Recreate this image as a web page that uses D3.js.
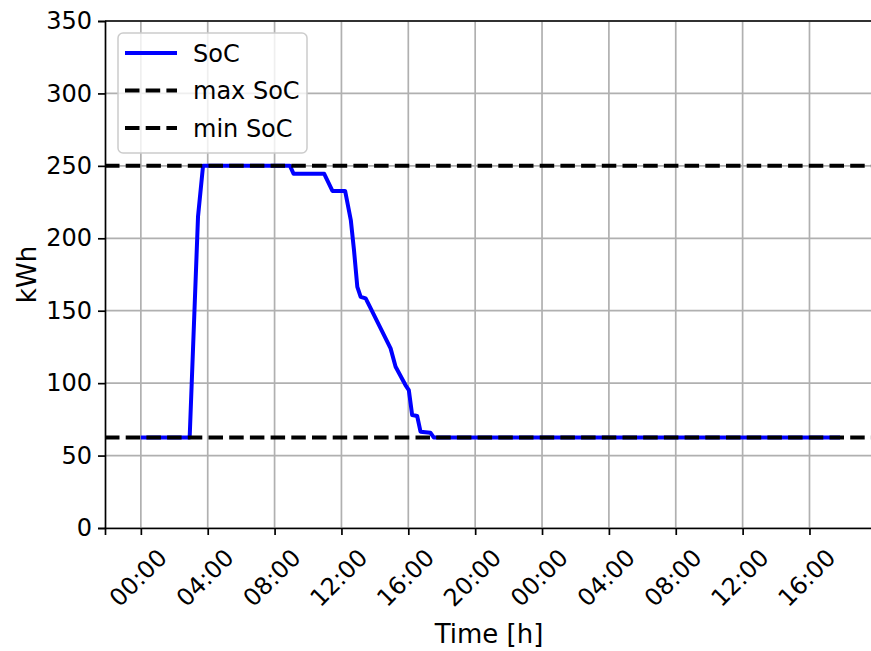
<!DOCTYPE html>
<html>
<head>
<meta charset="utf-8">
<script src="https://cdn.jsdelivr.net/npm/d3@7"></script>
<style>
  html, body { margin: 0; padding: 0; background: #fff; }
  svg { display: block; font-family: "DejaVu Sans", sans-serif; }
</style>
</head>
<body>
<svg id="chart" width="871" height="651"></svg>
<script>
// State of charge time series (hours since start of day 1, kWh)
const socHours = [0, 2.92, 3.42, 3.72, 8.92, 9.14, 10.97, 11.46, 12.22, 12.56, 12.75, 12.95,
  13.15, 13.45, 13.75, 14.94, 15.24, 15.83, 16.03, 16.23, 16.53, 16.73, 17.32, 17.52, 41.83];
const socValues = [62.5, 62.5, 215, 250, 250, 244.5, 244.5, 232.7, 232.7, 212.6, 191.9, 166.5,
  159.6, 158.5, 151.6, 124, 111.3, 98.7, 95.2, 78, 77.3, 66.5, 65.8, 62.5, 62.5];

// Battery limits
const maxSoC = 250;
const minSoC = 62.5;

// Axis ticks
const yTicks = [0, 50, 100, 150, 200, 250, 300, 350];
const xTickHours = [0, 4, 8, 12, 16, 20, 24, 28, 32, 36, 40];

const legendLabels = ["SoC", "max SoC", "min SoC"];

const t0 = Date.UTC(2024, 0, 1, 0, 0);
const toDate = h => new Date(t0 + h * 3600 * 1000);

const margin = { left: 105, right: 873, top: 21, bottom: 528 };
const svg = d3.select("#chart");

const x = d3.scaleUtc()
  .domain([toDate(-2.145), toDate(43.8)])
  .range([margin.left, margin.right]);
const y = d3.scaleLinear().domain([0, 350]).range([margin.bottom, margin.top]);

const fmt = d3.utcFormat("%H:%M");
const tickFont = 24;
const labelFont = 26;

// Grid
const grid = svg.append("g");
grid.selectAll("line.gx").data(xTickHours).join("line")
  .attr("x1", d => x(toDate(d))).attr("x2", d => x(toDate(d)))
  .attr("y1", margin.top).attr("y2", margin.bottom)
  .attr("stroke", "#b0b0b0").attr("stroke-width", 1.7);
grid.selectAll("line.gy").data(yTicks).join("line")
  .attr("x1", margin.left).attr("x2", margin.right)
  .attr("y1", d => y(d)).attr("y2", d => y(d))
  .attr("stroke", "#b0b0b0").attr("stroke-width", 1.7);

// SoC line
const series = socHours.map((h, i) => ({ t: toDate(h), v: socValues[i] }));
const line = d3.line().x(d => x(d.t)).y(d => y(d.v));
svg.append("path").datum(series)
  .attr("d", line)
  .attr("fill", "none").attr("stroke", "#0000ff")
  .attr("stroke-width", 4).attr("stroke-linejoin", "round");

// Limit lines
svg.selectAll("line.lim").data([maxSoC, minSoC]).join("line")
  .attr("x1", margin.left).attr("x2", margin.right)
  .attr("y1", d => y(d)).attr("y2", d => y(d))
  .attr("stroke", "#000").attr("stroke-width", 4)
  .attr("stroke-dasharray", "14.5,6.2");

// Axes
const xAxis = d3.axisBottom(x)
  .tickValues(xTickHours.map(toDate))
  .tickFormat(fmt).tickSize(7).tickPadding(0);
const gx = svg.append("g").attr("transform", `translate(0,${margin.bottom})`).call(xAxis);
gx.select(".domain").attr("stroke", "#000").attr("stroke-width", 1.7);
gx.selectAll(".tick line").attr("stroke", "#000").attr("stroke-width", 1.7);
gx.selectAll(".tick text")
  .attr("font-size", tickFont).attr("fill", "#000")
  .attr("font-family", "DejaVu Sans")
  .attr("text-anchor", "middle").attr("dy", null)
  .attr("dominant-baseline", "central")
  .attr("transform", "translate(-3,50) rotate(-45)")
  .attr("y", 0);

const yAxis = d3.axisLeft(y).tickValues(yTicks).tickSize(7).tickPadding(6);
const gy = svg.append("g").attr("transform", `translate(${margin.left},0)`).call(yAxis);
gy.select(".domain").attr("stroke", "#000").attr("stroke-width", 1.7);
gy.selectAll(".tick line").attr("stroke", "#000").attr("stroke-width", 1.7);
gy.selectAll(".tick text").attr("font-size", tickFont).attr("fill", "#000")
  .attr("font-family", "DejaVu Sans");

// Top spine
svg.append("line").attr("x1", margin.left).attr("x2", margin.right)
  .attr("y1", margin.top).attr("y2", margin.top)
  .attr("stroke", "#000").attr("stroke-width", 1.7);

// Axis titles
svg.append("text").attr("x", 489).attr("y", 643)
  .attr("text-anchor", "middle").attr("font-size", labelFont).text("Time [h]");
svg.append("text")
  .attr("transform", `translate(36,${(margin.top + margin.bottom) / 2}) rotate(-90)`)
  .attr("text-anchor", "middle").attr("font-size", labelFont).text("kWh");

// Legend
const lg = svg.append("g").attr("transform", "translate(118,33)");
lg.append("rect").attr("width", 189).attr("height", 120).attr("rx", 5)
  .attr("fill", "#fff").attr("fill-opacity", 0.8)
  .attr("stroke", "#cccccc").attr("stroke-width", 1.5);
const legStyles = [
  { stroke: "#0000ff", dash: null },
  { stroke: "#000", dash: "14.5,6.2" },
  { stroke: "#000", dash: "14.5,6.2" }
];
legendLabels.forEach((lab, i) => {
  const cy = 20 + i * 37.5;
  lg.append("line").attr("x1", 7).attr("x2", 59).attr("y1", cy).attr("y2", cy)
    .attr("stroke", legStyles[i].stroke).attr("stroke-width", 4)
    .attr("stroke-dasharray", legStyles[i].dash);
  lg.append("text").attr("x", 75).attr("y", cy).attr("dy", "0.36em")
    .attr("font-size", tickFont).text(lab);
});
</script>
</body>
</html>
